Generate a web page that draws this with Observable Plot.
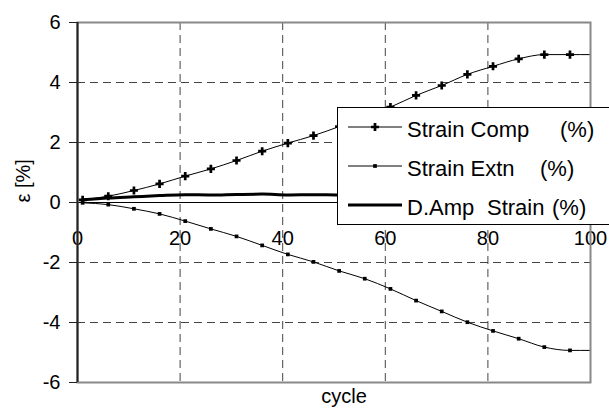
<!DOCTYPE html>
<html>
<head>
<meta charset="utf-8">
<script src="https://cdn.jsdelivr.net/npm/d3@7"></script>
<script src="https://cdn.jsdelivr.net/npm/@observablehq/plot@0.6"></script>
<style>
  html, body { margin: 0; padding: 0; background: #fff; }
  #chart { width: 609px; height: 412px; }
</style>
</head>
<body>
<div id="chart"></div>
<script>
// ---- data ----
const cycles = [1, 6, 11, 16, 21, 26, 31, 36, 41, 46, 51, 56, 61, 66, 71, 76, 81, 86, 91, 96, 100];
const strainComp = [0.09, 0.21, 0.40, 0.62, 0.88, 1.12, 1.40, 1.71, 1.98, 2.23, 2.53, 2.85, 3.18, 3.57, 3.90, 4.27, 4.54, 4.79, 4.93, 4.93, 4.93];
const strainExtn = [-0.01, -0.07, -0.21, -0.38, -0.62, -0.88, -1.13, -1.43, -1.73, -1.98, -2.28, -2.54, -2.88, -3.27, -3.63, -3.99, -4.28, -4.54, -4.82, -4.93, -4.93];
const dAmpStrain = [0.09, 0.15, 0.19, 0.23, 0.26, 0.25, 0.27, 0.28, 0.25, 0.26, 0.25, 0.30, 0.30, 0.30, 0.27, 0.28, 0.26, 0.25, 0.11, 0.00, 0.00];
const markerCount = 20; // last row only extends the line
const xTicks = [0, 20, 40, 60, 80, 100];
const xGrid = [20, 40, 60, 80];
const yTicks = [-6, -4, -2, 0, 2, 4, 6];
const yGrid = [-4, -2, 2, 4];
const seriesNames = ["Strain Comp", "Strain Extn", "D.Amp  Strain"];

const rows = cycles.map((c, i) => ({cycle: c, comp: strainComp[i], extn: strainExtn[i], damp: dAmpStrain[i], marker: i < markerCount}));
const markerRows = rows.filter(d => d.marker);

const font = "'Liberation Sans', Arial, sans-serif";

const plot = Plot.plot({
  width: 609,
  height: 412,
  marginLeft: 77,
  marginRight: 19,
  marginTop: 22,
  marginBottom: 30,
  style: {fontFamily: font, fontSize: "20px", background: "white", color: "black", overflow: "visible"},
  x: {domain: [0, 100]},
  y: {domain: [-6, 6]},
  marks: [
    Plot.ruleX(xGrid, {stroke: "#444", strokeWidth: 1, strokeDasharray: "8,5"}),
    Plot.ruleY(yGrid, {stroke: "#444", strokeWidth: 1, strokeDasharray: "8,5"}),
    Plot.text(xTicks, {x: d => d, y: () => 0, dy: 36, text: d => String(d), fontSize: 20, fill: "black"}),
    Plot.ruleY([0], {stroke: "black", strokeWidth: 1}),
    Plot.line(rows, {x: "cycle", y: "damp", stroke: "black", strokeWidth: 3, curve: "monotone-x"}),
    Plot.line(rows, {x: "cycle", y: "comp", stroke: "black", strokeWidth: 1, curve: "monotone-x"}),
    Plot.line(rows, {x: "cycle", y: "extn", stroke: "black", strokeWidth: 1, curve: "monotone-x"}),
    Plot.dot(markerRows, {x: "cycle", y: "comp", symbol: "cross", r: 3.4, fill: "black", stroke: null}),
    Plot.dot(markerRows, {x: "cycle", y: "extn", symbol: "square", r: 2.1, fill: "black", stroke: null}),
    Plot.frame({stroke: "#888", strokeWidth: 2}),
    Plot.ruleX([0], {stroke: "#222", strokeWidth: 2}),
    Plot.axisY({ticks: yTicks, tickFormat: d => String(d), tickSize: 8, tickPadding: 9, fontSize: 20, label: null, stroke: "#222"}),
    Plot.axisX({ticks: [], label: null}),
    Plot.text(["ε [%]"], {frameAnchor: "left", text: d => d, rotate: -90, dx: -54, fontSize: 20}),
    Plot.text(["cycle"], {frameAnchor: "bottom", text: d => d, dy: 20, dx: 10, fontSize: 20})
  ]
});

document.getElementById("chart").appendChild(plot);

// ---- legend (box drawn inside the plot, as in the reference) ----
const svg = d3.select(plot);
const lg = svg.append("g").attr("font-family", font).attr("font-size", 22).attr("text-anchor", "start");
lg.append("rect").attr("x", 337.5).attr("y", 107.5).attr("width", 290).attr("height", 117)
  .attr("fill", "white").attr("stroke", "black").attr("stroke-width", 1);
const rowY = [127, 166, 205];
const pctX = [560, 540, 552];
const widths = [1, 1, 3];
seriesNames.forEach((name, i) => {
  const y = rowY[i];
  lg.append("line").attr("x1", 348).attr("x2", 402).attr("y1", y).attr("y2", y)
    .attr("stroke", "black").attr("stroke-width", widths[i]);
  if (i === 0) lg.append("path").attr("d", d3.symbol(d3.symbolCross, 3.4 * 3.4 * Math.PI)()).attr("transform", `translate(375,${y})`).attr("fill", "black");
  if (i === 1) lg.append("path").attr("d", d3.symbol(d3.symbolSquare, 2.1 * 2.1 * Math.PI)()).attr("transform", `translate(375,${y})`).attr("fill", "black");
  const parts = name.split("  ");
  if (parts.length === 2) {
    lg.append("text").attr("x", 407).attr("y", y + 10).text(parts[0]);
    lg.append("text").attr("x", 487).attr("y", y + 10).text(parts[1]);
  } else {
    lg.append("text").attr("x", 407).attr("y", y + 10).text(name);
  }
  lg.append("text").attr("x", pctX[i]).attr("y", y + 10).text("(%)");
});
</script>
</body>
</html>
